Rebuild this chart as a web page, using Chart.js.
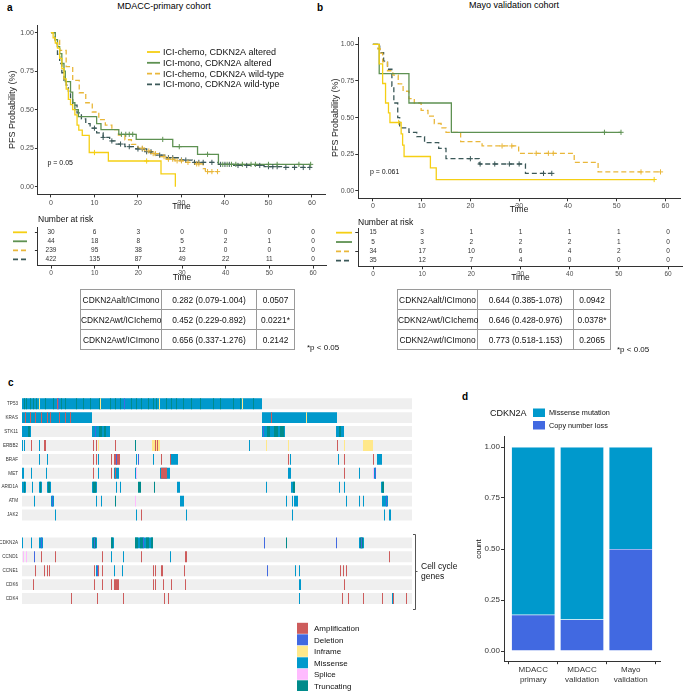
<!DOCTYPE html>
<html><head><meta charset="utf-8">
<script src="https://cdn.jsdelivr.net/npm/chart.js@4.4.1/dist/chart.umd.min.js"></script>
<style>
body{margin:0;background:#fff;font-family:'Liberation Sans',Arial,sans-serif;}
#root{position:relative;width:685px;height:691px;overflow:hidden;background:#fff;}
canvas{position:absolute;}
.lbl{position:absolute;font-weight:bold;font-size:10px;line-height:10px;}
.ttl{position:absolute;font-size:9px;line-height:10px;white-space:nowrap;transform:translateX(-50%);}
table.hr{position:absolute;border-collapse:collapse;table-layout:fixed;font-size:8.4px;}
table.hr td{border:1.5px solid #9a9a9a;height:19px;padding:0;text-align:center;white-space:nowrap;color:#111;}
.note{position:absolute;font-size:8px;line-height:10px;white-space:nowrap;color:#111;}
</style></head><body><div id="root">
<div class="lbl" style="left:7px;top:3px">a</div>
<div class="lbl" style="left:317px;top:3px">b</div>
<div class="ttl" style="left:164px;top:1px">MDACC-primary cohort</div>
<div class="ttl" style="left:514px;top:0px">Mayo validation cohort</div>
<canvas id="kmA" width="330" height="215" style="left:0;top:0"></canvas>
<canvas id="kmB" width="360" height="217" style="left:325px;top:0"></canvas>
<canvas id="riskA" width="330" height="75" style="left:0;top:210px"></canvas>
<canvas id="riskB" width="360" height="75" style="left:325px;top:210px"></canvas>
<table class="hr" id="hrA" style="left:80px;top:289px;width:214px"><colgroup><col style="width:81px"><col style="width:95px"><col style="width:38px"></colgroup></table>
<table class="hr" id="hrB" style="left:397px;top:289px;width:213px"><colgroup><col style="width:80px"><col style="width:96px"><col style="width:37px"></colgroup></table>
<div class="note" style="left:307px;top:343px">*p &lt; 0.05</div>
<div class="note" style="left:617px;top:345px">*p &lt; 0.05</div>
<div class="lbl" style="left:8px;top:378px">c</div>
<div class="lbl" style="left:462px;top:392px">d</div>
<canvas id="barD" width="230" height="289" style="left:455px;top:402px"></canvas>
<canvas id="onco" width="470" height="301" style="left:0;top:390px"></canvas>
</div>
<script>
const FONT = "'Liberation Sans', Arial, sans-serif";
Chart.defaults.font.family = FONT;
Chart.defaults.color = '#333';
Chart.defaults.animation = false;

// ================= DATA =================
const timeTicks = [0, 10, 20, 30, 40, 50, 60];
const survTicks = [0, 0.25, 0.5, 0.75, 1];
const groupLabels = ['ICI-chemo, CDKN2A altered', 'ICI-mono, CDKN2A altered', 'ICI-chemo, CDKN2A wild-type', 'ICI-mono, CDKN2A wild-type'];

// Panel a: MDACC-primary cohort (step times / survival)
const aChemoAltT = [0, 0.5, 1, 1.5, 2, 2.5, 3, 3.5, 4, 4.5, 5.0, 5.5, 6.0, 6.4, 7.2, 8.8, 13.2, 25.3, 28.6];
const aChemoAltS = [1, 0.967, 0.933, 0.9, 0.833, 0.767, 0.7, 0.633, 0.567, 0.533, 0.5, 0.467, 0.4, 0.367, 0.333, 0.222, 0.167, 0.083, 0];
const aChemoAltCens = [10, 22];
const aMonoAltT = [0, 1, 1.5, 2, 2.5, 3, 3.3, 4.5, 5, 5.5, 6.3, 10.5, 11.5, 15.6, 19.6, 28, 33.7, 38.5, 59.7];
const aMonoAltS = [1, 0.955, 0.91, 0.864, 0.8, 0.75, 0.682, 0.614, 0.545, 0.5, 0.455, 0.41, 0.37, 0.34, 0.307, 0.26, 0.21, 0.145, 0.145];
const aMonoAltCens = [16.2, 17.2, 18.0, 18.8, 25.7, 29.5, 36, 39.5, 40.5, 41.5, 42.5, 44, 46, 47, 50, 52, 57, 59.7];
const aChemoWtT = [0, 1, 2, 3.5, 5, 6.5, 8, 9.5, 11, 12.5, 14, 15.5, 17, 18.5, 20, 21.5, 23, 25, 26.5, 28.5, 31, 33, 35, 35.5, 38.3];
const aChemoWtS = [1, 0.95, 0.885, 0.78, 0.69, 0.61, 0.545, 0.485, 0.435, 0.4, 0.37, 0.335, 0.305, 0.275, 0.25, 0.232, 0.215, 0.195, 0.178, 0.168, 0.158, 0.148, 0.118, 0.098, 0.098];
const aChemoWtCens = [21, 22.5, 23.5, 24, 26, 27, 28, 29, 30, 31.5, 33.5, 34, 36, 37, 38.3];
const aMonoWtT = [0, 1, 1.5, 2, 2.5, 3, 3.5, 4, 4.5, 5, 6, 7, 8, 9, 10.5, 12, 13.5, 15, 17, 19.5, 22, 24, 26.5, 29.5, 32.5, 38.5, 42, 49, 53, 59.5];
const aMonoWtS = [1, 0.93, 0.86, 0.8, 0.74, 0.69, 0.66, 0.62, 0.57, 0.53, 0.48, 0.44, 0.41, 0.38, 0.35, 0.32, 0.297, 0.277, 0.26, 0.245, 0.227, 0.205, 0.188, 0.173, 0.158, 0.145, 0.138, 0.13, 0.125, 0.125];
const aMonoWtCens = [10, 12, 14, 16, 18, 20, 21, 22, 23, 25, 27, 28, 30, 31, 33, 34, 35, 37, 39, 40, 41, 43, 45, 48, 50, 51, 52, 54, 56, 58, 59.5];

// Panel b: Mayo validation cohort
const bChemoAltT = [0, 1.3, 2.0, 2.6, 3.2, 3.5, 5.8, 6.1, 6.4, 11.8, 13.0, 57.7];
const bChemoAltS = [1, 0.867, 0.733, 0.6, 0.533, 0.467, 0.39, 0.313, 0.235, 0.157, 0.078, 0.078];
const bChemoAltCens = [5.3, 57.7];
const bMonoAltT = [0, 1.3, 7.4, 16.1, 50.9];
const bMonoAltS = [1, 0.8, 0.6, 0.4, 0.4];
const bMonoAltCens = [47.5, 50.9];
const bChemoWtT = [0, 1.0, 1.5, 2.0, 3.0, 4.1, 5.2, 6.2, 7.4, 8.5, 9.9, 11.3, 12.6, 14.0, 15.0, 18.0, 22.4, 29.9, 41.3, 46.2, 59.0];
const bChemoWtS = [1, 0.97, 0.94, 0.88, 0.82, 0.79, 0.73, 0.68, 0.63, 0.6, 0.55, 0.51, 0.46, 0.43, 0.40, 0.336, 0.307, 0.257, 0.195, 0.13, 0.13];
const bChemoWtCens = [26.5, 28.5, 33.5, 36, 37, 55, 59];
const bMonoWtT = [0, 1.4, 2.2, 3.0, 3.9, 4.3, 5.1, 5.5, 7.4, 9.0, 10.6, 13.5, 15.0, 21.8, 31.3, 36.7];
const bMonoWtS = [1, 0.943, 0.886, 0.83, 0.714, 0.6, 0.5, 0.43, 0.4, 0.37, 0.33, 0.29, 0.22, 0.184, 0.12, 0.12];
const bMonoWtCens = [20, 22, 25, 28, 30, 35, 36.7];

// Number at risk
const riskTimes = [0, 10, 20, 30, 40, 50, 60];
const riskAChemoAlt = [30, 6, 3, 0, 0, 0, 0];
const riskAMonoAlt = [44, 18, 8, 5, 2, 1, 0];
const riskAChemoWt = [239, 95, 38, 12, 0, 0, 0];
const riskAMonoWt = [422, 135, 87, 49, 22, 11, 0];
const riskBChemoAlt = [15, 3, 1, 1, 1, 1, 0];
const riskBMonoAlt = [5, 3, 2, 2, 2, 1, 0];
const riskBChemoWt = [34, 17, 10, 6, 4, 2, 0];
const riskBMonoWt = [35, 12, 7, 4, 0, 0, 0];

// Hazard ratio tables
const hrRowsA = [['CDKN2Aalt/ICImono', '0.282 (0.079-1.004)', '0.0507'], ['CDKN2Awt/ICIchemo', '0.452 (0.229-0.892)', '0.0221*'], ['CDKN2Awt/ICImono', '0.656 (0.337-1.276)', '0.2142']];
const hrRowsB = [['CDKN2Aalt/ICImono', '0.644 (0.385-1.078)', '0.0942'], ['CDKN2Awt/ICIchemo', '0.646 (0.428-0.976)', '0.0378*'], ['CDKN2Awt/ICImono', '0.773 (0.518-1.153)', '0.2065']];

// Oncoprint (sample positions along the track, 0..390)
const oncoGenes = ['TP53', 'KRAS', 'STK11', 'ERBB2', 'BRAF', 'MET', 'ARID1A', 'ATM', 'JAK2', '', 'CDKN2A', 'CCND1', 'CCNE1', 'CDK6', 'CDK4'];
const oncoSamples = 390;
const altTypes = ['Amplification', 'Deletion', 'Inframe', 'Missense', 'Splice', 'Truncating'];
const missenseCells = [
 ['TP53',0,240],
 ['KRAS',0,70],['KRAS',240,315],
 ['STK11',0,9],['STK11',70,88],['STK11',240,263],['STK11',314,322],
 ['ERBB2',0,1],['ERBB2',2,3],['ERBB2',17,18],['ERBB2',227,228],
 ['BRAF',17,18],['BRAF',25,26],['BRAF',76,77],['BRAF',114,115],['BRAF',131,132],['BRAF',149,156],['BRAF',268,269],['BRAF',316,317],['BRAF',355,360],
 ['MET',0,2],['MET',9,10],['MET',24,25],['MET',76,77],['MET',92,97],['MET',113,115],['MET',138,148],['MET',266,269],['MET',337,338],['MET',352,354],
 ['ARID1A',0,4],['ARID1A',10,11],['ARID1A',17,20],['ARID1A',25,29],['ARID1A',70,75],['ARID1A',94,95],['ARID1A',98,99],['ARID1A',155,158],['ARID1A',244,245],['ARID1A',269,273],['ARID1A',317,318],['ARID1A',322,323],['ARID1A',359,362],
 ['ATM',12,13],['ATM',29,32],['ATM',74,75],['ATM',79,80],['ATM',158,162],['ATM',264,265],['ATM',270,271],['ATM',272,276],['ATM',324,325],['ATM',337,338],['ATM',341,342],['ATM',360,366],
 ['JAK2',33,34],['JAK2',114,115],['JAK2',164,165],['JAK2',270,271],['JAK2',362,363],['JAK2',367,369],
 ['CDKN2A',0,1],['CDKN2A',9,10],['CDKN2A',17,21],['CDKN2A',70,75],['CDKN2A',89,92],['CDKN2A',113,131],['CDKN2A',242,243],['CDKN2A',337,342],
 ['CCND1',89,90],['CCND1',101,102],['CCND1',148,149],
 ['CCNE1',74,75],['CCNE1',92,93],['CCNE1',100,101],['CCNE1',273,274],['CCNE1',277,278],
 ['CDK6',277,279],
 ['CDK4',277,278],['CDK4',370,371]
];
const tp53TruncPos = [2,4,8,11,14,23,31,39,43,54,61,68,77,88,93,98,109,114,119,126,131,134,144,149,154,161,169,178,191,198,211,218,231];
const truncatingCells = [
 ['STK11',6,8],['STK11',77,80],['STK11',82,84],['STK11',245,248],['STK11',252,256],['STK11',258,262],['STK11',317,319],
 ['ERBB2',113,114],['ERBB2',344,345],['ERBB2',347,348],
 ['ARID1A',2,3],['ARID1A',18,19],['ARID1A',26,28],['ARID1A',71,74],['ARID1A',116,119],['ARID1A',132,133],['ARID1A',271,273],['ARID1A',360,362],
 ['ATM',93,94],
 ['CDKN2A',71,74],['CDKN2A',89,91],['CDKN2A',113,116],['CDKN2A',118,121],['CDKN2A',124,127],['CDKN2A',129,131],['CDKN2A',264,265],['CDKN2A',338,341]
];
const inframeCells = [['TP53',17,18],['TP53',78,79],['TP53',137,138],['TP53',220,221],['KRAS',284,285],['ERBB2',76,77],['ERBB2',130,138],['ERBB2',244,245],['ERBB2',266,267],['ERBB2',322,323],['ERBB2',341,351]];
const amplificationCells = [
 ['TP53',35,36],
 ['KRAS',3,4],['KRAS',8,9],['KRAS',13,14],['KRAS',19,20],['KRAS',25,26],['KRAS',28,29],['KRAS',37,38],['KRAS',43,44],['KRAS',48,49],['KRAS',249,250],
 ['ERBB2',9,10],['ERBB2',22,24],['ERBB2',71,72],['ERBB2',74,75],['ERBB2',93,94],['ERBB2',133,134],['ERBB2',135,136],['ERBB2',315,316],
 ['BRAF',71,72],['BRAF',74,75],['BRAF',89,90],['BRAF',92,98],['BRAF',139,140],['BRAF',148,149],['BRAF',266,267],['BRAF',322,323],['BRAF',351,352],
 ['MET',71,72],['MET',89,90],['MET',93,94],['MET',139,145],['MET',322,323],
 ['JAK2',119,120],
 ['CCND1',19,20],['CCND1',33,34],['CCND1',80,81],['CCND1',119,120],['CCND1',163,165],['CCND1',367,368],
 ['CCNE1',13,14],['CCNE1',22,23],['CCNE1',25,26],['CCNE1',27,28],['CCNE1',72,73],['CCNE1',76,77],['CCNE1',80,81],['CCNE1',131,132],['CCNE1',133,134],['CCNE1',139,141],['CCNE1',162,163],['CCNE1',318,319],['CCNE1',321,322],['CCNE1',324,325],
 ['CDK6',11,12],['CDK6',72,73],['CDK6',80,81],['CDK6',89,90],['CDK6',92,97],['CDK6',131,132],['CDK6',133,134],['CDK6',141,142],['CDK6',149,150],['CDK6',163,164],['CDK6',322,323],
 ['CDK4',49,50],['CDK4',75,76],['CDK4',101,102],['CDK4',142,143],['CDK4',146,147],['CDK4',320,321],['CDK4',326,327],['CDK4',341,342],['CDK4',360,361],['CDK4',371,372],['CDK4',384,385]
];
const deletionCells = [['TP53',36,37],['TP53',102,103],['STK11',73,74],['STK11',241,242],['BRAF',94,95],['BRAF',116,117],['MET',353,354],['ATM',30,31],['ATM',364,365],['CDKN2A',19,20],['CDKN2A',72,73],['CDKN2A',121,122],['CDKN2A',242,243],['CDKN2A',314,315],['CDKN2A',339,340],['CCND1',12,13],['CCNE1',75,76],['CCNE1',245,246]];
const spliceCells = [['MET',114,115],['MET',351,352],['ATM',113,114],['CCND1',1,2],['CCND1',4,5]];

// Panel d
const dCohorts = [['MDACC', 'primary'], ['MDACC', 'validation'], ['Mayo', 'validation']];
const dCopyLoss = [0.178, 0.155, 0.5];
const dMissense = [0.822, 0.845, 0.5];
const dLegend = ['Missense mutation', 'Copy number loss'];

// ================= STYLES =================
const groupColors = ['#F5CF14', '#5E9152', '#E9B73A', '#3B5858'];
const groupDash = [[], [], [5, 3], [5, 3]];
const altColors = ['#CD5C5C', '#4169E1', '#FFE88A', '#0099CC', '#FFBBFF', '#008B8B'];
const axisColor = '#333';

// ================= HELPERS =================
function survAt(t, s, c) { let v = s[0]; for (let i = 0; i < t.length; i++) if (t[i] <= c) v = s[i]; return v; }
function kmDatasets(curves) {
  const ds = [];
  curves.forEach((c, g) => {
    ds.push({ data: c.t.map((x, i) => ({ x: x, y: c.s[i] })), stepped: true, borderColor: groupColors[g], borderWidth: 1.3,
      borderDash: groupDash[g], pointRadius: 0, fill: false, order: 1 });
    ds.push({ data: c.cens.map(x => ({ x: x, y: survAt(c.t, c.s, x) })), showLine: false, pointStyle: 'cross', pointRadius: 2.6,
      pointBorderWidth: 1, pointBorderColor: groupColors[g], pointBackgroundColor: groupColors[g], order: 0 });
  });
  return ds;
}
function axisX(height, titleText, padBottom, tickFont) {
  return { type: 'linear', min: -3, max: 63,
    afterBuildTicks: s => { s.ticks = timeTicks.map(v => ({ value: v })); },
    afterFit: s => { s.height = height; },
    ticks: { font: { size: tickFont }, color: '#4D4D4D', padding: 1, maxRotation: 0, autoSkip: false },
    grid: { display: true, drawOnChartArea: false, drawTicks: true, tickLength: 3, color: axisColor },
    border: { display: true, color: axisColor, width: 1 },
    title: { display: !!titleText, text: titleText, font: { size: 8.5 }, color: '#111', padding: { top: 0, bottom: padBottom } } };
}
function kmChart(id, curves, geo, pText, pPos) {
  new Chart(document.getElementById(id), {
    type: 'line',
    data: { datasets: kmDatasets(curves) },
    options: { responsive: false, animation: false, events: [],
      layout: { padding: { left: 0, top: geo.top, right: geo.right, bottom: 0 } },
      plugins: { legend: { display: false }, tooltip: { enabled: false } },
      scales: {
        x: axisX(geo.xh, 'Time', geo.tpad, 7),
        y: { type: 'linear', min: -0.05, max: 1.05,
          afterBuildTicks: s => { s.ticks = survTicks.map(v => ({ value: v })); },
          afterFit: s => { s.width = geo.yw; },
          ticks: { font: { size: 7 }, color: '#4D4D4D', padding: 1, callback: v => Number(v).toFixed(2) },
          grid: { display: true, drawOnChartArea: false, drawTicks: true, tickLength: 3, color: axisColor },
          border: { display: true, color: axisColor, width: 1 },
          title: { display: true, text: 'PFS Probability (%)', font: { size: 9 }, color: '#222', padding: { top: geo.ypad, bottom: 0 } } }
      } },
    plugins: [{ id: 'kmText', afterDraw(chart) {
      const ctx = chart.ctx; ctx.save();
      ctx.font = '7px ' + FONT; ctx.fillStyle = '#111'; ctx.textBaseline = 'middle'; ctx.textAlign = 'left';
      ctx.fillText(pText, pPos[0], pPos[1]);
      if (geo.legend) {
        groupLabels.forEach((lab, g) => {
          const y = geo.legend[1] + g * 10.8;
          ctx.strokeStyle = groupColors[g]; ctx.lineWidth = 1.8; ctx.setLineDash(groupDash[g]);
          ctx.beginPath(); ctx.moveTo(geo.legend[0], y); ctx.lineTo(geo.legend[0] + 13, y); ctx.stroke();
          ctx.setLineDash([]);
          ctx.font = '9px ' + FONT; ctx.fillStyle = '#111';
          ctx.fillText(lab, geo.legend[0] + 16, y + 0.5);
        });
      }
      ctx.restore();
    } }]
  });
}
function riskChart(id, rows, geo) {
  const datasets = rows.map((vals, r) => ({ data: riskTimes.map(t => ({ x: t, y: r + 1 })), riskValues: vals, pointRadius: 0 }));
  new Chart(document.getElementById(id), {
    type: 'scatter',
    data: { datasets },
    options: { responsive: false, animation: false, events: [],
      layout: { padding: { left: 0, top: geo.top, right: geo.right, bottom: 0 } },
      plugins: { legend: { display: false }, tooltip: { enabled: false } },
      scales: {
        x: axisX(geo.xh, 'Time', geo.tpad, 6.5),
        y: { type: 'linear', min: 0.5, max: geo.ymax, reverse: true,
          afterBuildTicks: s => { s.ticks = [1, 2, 3, 4].map(v => ({ value: v })); },
          afterFit: s => { s.width = geo.yw; },
          ticks: { callback: () => '' },
          grid: { display: true, drawOnChartArea: false, drawTicks: true, tickLength: 3, color: axisColor },
          border: { display: true, color: axisColor, width: 1 } }
      } },
    plugins: [{ id: 'riskText', afterDraw(chart) {
      const ctx = chart.ctx; ctx.save();
      ctx.textBaseline = 'middle';
      ctx.font = '8.5px ' + FONT; ctx.fillStyle = '#111'; ctx.textAlign = 'left';
      ctx.fillText('Number at risk', geo.title[0], geo.title[1]);
      ctx.font = '6.5px ' + FONT; ctx.fillStyle = '#333'; ctx.textAlign = 'center';
      chart.data.datasets.forEach((ds, r) => {
        const meta = chart.getDatasetMeta(r);
        meta.data.forEach((pt, i) => ctx.fillText(String(ds.riskValues[i]), pt.x, pt.y));
        const y = meta.data[0].y;
        ctx.strokeStyle = groupColors[r]; ctx.lineWidth = 1.8; ctx.setLineDash(groupDash[r]);
        ctx.beginPath(); ctx.moveTo(geo.sym[0], y); ctx.lineTo(geo.sym[1], y); ctx.stroke(); ctx.setLineDash([]);
      });
      ctx.restore();
    } }]
  });
}

// ================= PANEL a / b =================
kmChart('kmA', [
  { t: aChemoAltT, s: aChemoAltS, cens: aChemoAltCens },
  { t: aMonoAltT, s: aMonoAltS, cens: aMonoAltCens },
  { t: aChemoWtT, s: aChemoWtS, cens: aChemoWtCens },
  { t: aMonoWtT, s: aMonoWtS, cens: aMonoWtCens }
], { top: 25, right: 3.9, yw: 37.9, xh: 20.6, tpad: 3, ypad: 7.6, legend: [147, 52] }, 'p = 0.05', [47.5, 163]);

kmChart('kmB', [
  { t: bChemoAltT, s: bChemoAltS, cens: bChemoAltCens },
  { t: bMonoAltT, s: bMonoAltS, cens: bMonoAltCens },
  { t: bChemoWtT, s: bChemoWtS, cens: bChemoWtCens },
  { t: bMonoWtT, s: bMonoWtS, cens: bMonoWtCens }
], { top: 37, right: 2.25, yw: 33.25, xh: 18.7, tpad: 1.9, ypad: 5.6, legend: null }, 'p = 0.061', [45, 172]);

riskChart('riskA', [riskAChemoAlt, riskAMonoAlt, riskAChemoWt, riskAMonoWt],
  { top: 17.8, right: 3.9, yw: 37.9, xh: 19.4, tpad: 2.3, ymax: 4.7, title: [38, 9.5], sym: [13, 27] });
riskChart('riskB', [riskBChemoAlt, riskBMonoAlt, riskBChemoWt, riskBMonoWt],
  { top: 18, right: 2.25, yw: 33.25, xh: 18.7, tpad: 2.6, ymax: 4.6, title: [33, 12.7], sym: [11, 27] });

// HR tables
function fillTable(id, rows) {
  const tb = document.getElementById(id);
  rows.forEach(r => { const tr = document.createElement('tr'); r.forEach(c => { const td = document.createElement('td'); td.textContent = c; tr.appendChild(td); }); tb.appendChild(tr); });
}
fillTable('hrA', hrRowsA);
fillTable('hrB', hrRowsB);

// ================= PANEL c (oncoprint) =================
const cellLists = [amplificationCells, deletionCells, inframeCells, missenseCells, spliceCells, truncatingCells];
const drawOrder = [2, 1, 3, 5, 0, 4]; // lower is drawn on top
const oncoDatasets = altTypes.map((name, k) => {
  const cells = k === 5 ? truncatingCells.concat(tp53TruncPos.map(p => ['TP53', p, p + 1])) : cellLists[k];
  return { label: name, data: cells.map(c => ({ y: c[0], x: [c[1], c[2]] })), backgroundColor: altColors[k],
    borderWidth: 0, grouped: false, barPercentage: 0.786, categoryPercentage: 1, order: drawOrder[k] };
});
oncoDatasets.push({ label: 'bg', data: oncoGenes.filter(g => g).map(g => ({ y: g, x: [0, oncoSamples] })), backgroundColor: '#EFEFEF',
  borderWidth: 0, grouped: false, barPercentage: 0.786, categoryPercentage: 1, order: 10 });
new Chart(document.getElementById('onco'), {
  type: 'bar',
  data: { labels: oncoGenes, datasets: oncoDatasets },
  options: { responsive: false, animation: false, events: [], indexAxis: 'y',
    layout: { padding: { left: 0, top: 5.5, right: 58, bottom: 85.5 } },
    plugins: { legend: { display: false }, tooltip: { enabled: false } },
    scales: {
      x: { type: 'linear', min: 0, max: oncoSamples, display: false },
      y: { type: 'category', afterFit: s => { s.width = 22; }, ticks: { font: { size: 4.6 }, color: '#333', padding: 4, autoSkip: false },
        grid: { display: false, drawTicks: false, tickLength: 0 }, border: { display: false } }
    } },
  plugins: [{ id: 'oncoExtras', afterDraw(chart) {
    const ctx = chart.ctx; ctx.save();
    ctx.strokeStyle = '#555'; ctx.lineWidth = 1;
    ctx.beginPath(); ctx.moveTo(413, 144.5); ctx.lineTo(415.5, 144.5); ctx.lineTo(415.5, 219.5); ctx.lineTo(413, 219.5); ctx.stroke();
    ctx.beginPath(); ctx.moveTo(415.5, 181.5); ctx.lineTo(417.5, 181.5); ctx.stroke();
    ctx.font = '8.5px ' + FONT; ctx.fillStyle = '#111'; ctx.textBaseline = 'middle'; ctx.textAlign = 'left';
    ctx.fillText('Cell cycle', 421, 176.5); ctx.fillText('genes', 421, 186.5);
    ctx.font = '8px ' + FONT;
    altTypes.forEach((name, k) => {
      const y = 238.3 + k * 11.5;
      ctx.fillStyle = altColors[k]; ctx.fillRect(297, y - 5.5, 11, 11);
      ctx.fillStyle = '#111'; ctx.fillText(name, 314, y + 0.5);
    });
    ctx.restore();
  } }]
});

// ================= PANEL d =================
new Chart(document.getElementById('barD'), {
  type: 'bar',
  data: { datasets: [
    { label: dLegend[1], data: dCopyLoss.map((v, i) => ({ x: i + 1, y: v })), backgroundColor: '#4169E1', borderColor: 'rgba(230,240,255,0.7)', borderWidth: 0.6, grouped: false, barPercentage: 0.9, categoryPercentage: 1 },
    { label: dLegend[0], data: dMissense.map((v, i) => ({ x: i + 1, y: v })), backgroundColor: '#0099CC', borderColor: 'rgba(230,240,255,0.7)', borderWidth: 0.6, grouped: false, barPercentage: 0.9, categoryPercentage: 1 }
  ] },
  options: { responsive: false, animation: false, events: [],
    layout: { padding: { left: 0, top: 34.8, right: 25, bottom: 0 } },
    plugins: { legend: { display: false }, tooltip: { enabled: false } },
    scales: {
      x: { type: 'linear', min: 0.4, max: 3.6, offset: false,
        afterBuildTicks: s => { s.ticks = [1, 2, 3].map(v => ({ value: v })); },
        afterFit: s => { s.height = 29.8; },
        ticks: { font: { size: 8 }, color: '#333', padding: 1, maxRotation: 0, autoSkip: false, callback: v => dCohorts[Math.round(v) - 1] },
        grid: { display: true, drawOnChartArea: false, drawTicks: true, tickLength: 3, color: axisColor },
        border: { display: true, color: axisColor, width: 1 } },
      y: { type: 'linear', min: -0.05, max: 1.05, stacked: true,
        afterBuildTicks: s => { s.ticks = survTicks.map(v => ({ value: v })); },
        afterFit: s => { s.width = 49; },
        ticks: { font: { size: 8 }, color: '#333', padding: 1, callback: v => Number(v).toFixed(2) },
        grid: { display: true, drawOnChartArea: false, drawTicks: true, tickLength: 3, color: axisColor },
        border: { display: true, color: axisColor, width: 1 },
        title: { display: true, text: 'count', font: { size: 8 }, color: '#111', padding: { top: 19.2, bottom: 0 } } }
    } },
  plugins: [{ id: 'dLegend', afterDraw(chart) {
    const ctx = chart.ctx; ctx.save();
    ctx.textBaseline = 'middle'; ctx.textAlign = 'left';
    ctx.font = '9px ' + FONT; ctx.fillStyle = '#111'; ctx.fillText('CDKN2A', 35, 11.5);
    ctx.font = '7.3px ' + FONT;
    ctx.fillStyle = '#0099CC'; ctx.fillRect(78, 6.5, 12, 8.5);
    ctx.fillStyle = '#4169E1'; ctx.fillRect(78, 19, 12, 8.5);
    ctx.fillStyle = '#111'; ctx.fillText(dLegend[0], 94, 11.2); ctx.fillText(dLegend[1], 94, 23.5);
    ctx.restore();
  } }]
});
</script>
</body></html>
